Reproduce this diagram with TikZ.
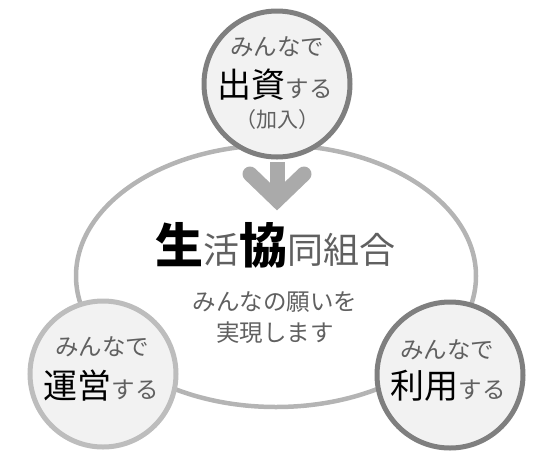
\documentclass[tikz,border=0pt]{standalone}
\usepackage{fontspec}
\newfontfamily\jpfont{Noto Sans CJK JP}
\usetikzlibrary{shapes.geometric,calc}

\definecolor{ringdark}{HTML}{7F7F7F}
\definecolor{ringlight}{HTML}{BDBDBD}
\definecolor{discfill}{HTML}{F2F2F2}
\definecolor{textgray}{HTML}{606060}
\definecolor{arrowgray}{HTML}{AAAAAA}
\definecolor{ovalgray}{HTML}{B4B4B4}

\newcommand{\keyword}[1]{{\fontsize{34}{36}\selectfont\color{black}#1}}
\newcommand{\titlebig}[1]{{\fontsize{48}{52}\selectfont\bfseries\color{black}#1}}

\tikzset{
  disc/.style={draw, circle, line width=5pt, fill=discfill, minimum size=146pt, inner sep=0pt},
  label24/.style={font=\jpfont\fontsize{23.5}{26}\selectfont, text=textgray, inner sep=0pt},
  label21/.style={font=\jpfont\fontsize{21}{24}\selectfont, text=textgray, inner sep=0pt},
  label23/.style={font=\jpfont\fontsize{23.5}{27}\selectfont, text=textgray, inner sep=0pt},
  title/.style={font=\jpfont\fontsize{36}{40}\selectfont, text=textgray, inner sep=0pt},
  downarrow/.style={draw=arrowgray, line width=15pt}
}

\begin{document}
\begin{tikzpicture}[x=1pt, y=-1pt]
      \useasboundingbox (0,0) rectangle (533,451);

      % Oval
      \node[draw=ovalgray, line width=4.5pt, ellipse, minimum width=400pt, minimum height=262pt, inner sep=0pt] (coop) at (276,276) {};

      % Arrow
      \coordinate (tip) at (277,200);
      \node[disc, draw=none, fill=none] (topshape) at (277,84) {};
      \draw[downarrow] ([yshift=-2.5pt]topshape.south) -- (tip);
      \draw[downarrow, line cap=round, line join=miter] ($(tip)+(-27,-26)$) -- (tip) -- ($(tip)+(27,-26)$);

      % Circles
      \node[disc, draw=ringdark] (top) at (277,84) {};
      \node[disc, draw=ringlight] (left) at (103,374) {};
      \node[disc, draw=ringdark] (right) at (450,375) {};

      % Texts
      \node[label24] (topcall) at ($(top)+(0,-37)$) {みんなで};
      \node[label24] (topverb) at ($(top)+(-2,1)$) {\keyword{出資}する};
      \node[label21] (topnote) at ($(top)+(0,36)$) {（加入）};
      \node[label24] (leftcall) at ($(left)+(-1,-27)$) {みんなで};
      \node[label24] (leftverb) at ($(left)+(-2,12)$) {\keyword{運営}する};
      \node[label24] (rightcall) at ($(right)+(-3,-25)$) {みんなで};
      \node[label24] (rightverb) at ($(right)+(-2,11)$) {\keyword{利用}する};

      \node[title] (name) at (275,245) {\titlebig{生}活\titlebig{協}同組合};
      \node[label23] (wish1) at (275,302) {みんなの願いを};
      \node[label23] (wish2) at (275,333) {実現します};
    \end{tikzpicture}
\end{document}
